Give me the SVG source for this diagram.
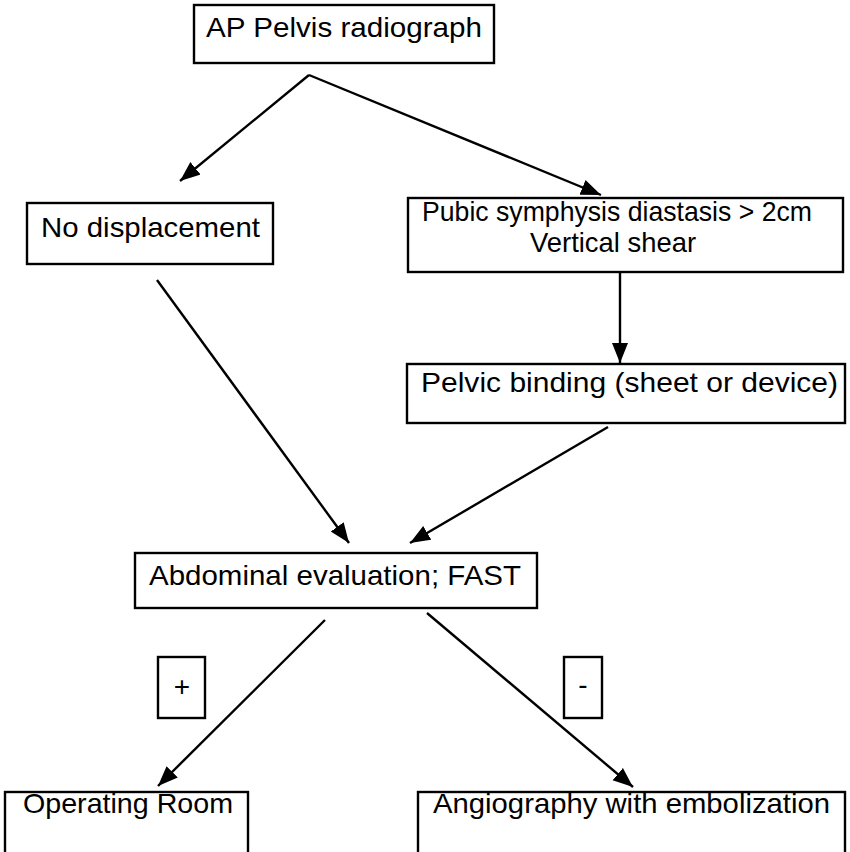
<svg xmlns="http://www.w3.org/2000/svg" width="850" height="852" viewBox="0 0 850 852">
<style>
.box{fill:#fff;stroke:#000;stroke-width:2.4}
.t{font-family:"Liberation Sans",Arial,sans-serif;font-size:28px;fill:#000}
.sm{font-family:"Liberation Sans",Arial,sans-serif;font-size:28px;fill:#000;text-anchor:middle}
.ln{stroke:#000;stroke-width:2.4;fill:none;marker-end:url(#ah)}
</style>
<defs>
<marker id="ah" markerUnits="userSpaceOnUse" markerWidth="22" markerHeight="18" refX="20" refY="8" orient="auto">
<path d="M0,0 L20,8 L0,16 Z" fill="#000"/>
</marker>
</defs>
<rect width="850" height="852" fill="#fff"/>
<g id="connectors">
<line class="ln" x1="309" y1="75" x2="180" y2="181"/>
<line class="ln" x1="309" y1="75" x2="601" y2="195"/>
<line class="ln" x1="620" y1="272" x2="620" y2="363"/>
<line class="ln" x1="157" y1="280" x2="349" y2="543"/>
<line class="ln" x1="608" y1="427" x2="410" y2="543"/>
<line class="ln" x1="325" y1="620" x2="158" y2="786"/>
<line class="ln" x1="427" y1="613" x2="633" y2="787"/>
</g>
<g id="ap-pelvis">
<rect class="box" x="194" y="5" width="300" height="58"/>
<text class="t" x="206" y="37" textLength="276" lengthAdjust="spacingAndGlyphs">AP Pelvis radiograph</text>
</g>
<g id="no-displacement">
<rect class="box" x="27" y="203" width="246" height="61"/>
<text class="t" x="41" y="237" textLength="219" lengthAdjust="spacingAndGlyphs">No displacement</text>
</g>
<g id="pubic">
<rect class="box" x="408" y="198" width="435" height="74"/>
<text class="t" x="422" y="221" textLength="390" lengthAdjust="spacingAndGlyphs">Pubic symphysis diastasis &gt; 2cm</text>
<text class="t" x="530" y="252" textLength="166" lengthAdjust="spacingAndGlyphs">Vertical shear</text>
</g>
<g id="pelvic-binding">
<rect class="box" x="407" y="364" width="438" height="59"/>
<text class="t" x="421" y="392" textLength="417" lengthAdjust="spacingAndGlyphs">Pelvic binding (sheet or device)</text>
</g>
<g id="abdominal">
<rect class="box" x="135" y="553" width="402" height="55"/>
<text class="t" x="149" y="585" textLength="372" lengthAdjust="spacingAndGlyphs">Abdominal evaluation; FAST</text>
</g>
<g id="plus">
<rect class="box" x="158" y="657" width="47" height="61"/>
<text class="sm" x="182" y="696">+</text>
</g>
<g id="minus">
<rect class="box" x="564" y="657" width="38" height="61"/>
<text class="sm" x="583" y="694">-</text>
</g>
<g id="operating-room">
<rect class="box" x="5" y="792" width="243" height="80"/>
<text class="t" x="23" y="813" textLength="210" lengthAdjust="spacingAndGlyphs">Operating Room</text>
</g>
<g id="angiography">
<rect class="box" x="418" y="792" width="427" height="80"/>
<text class="t" x="433" y="813" textLength="397" lengthAdjust="spacingAndGlyphs">Angiography with embolization</text>
</g>
</svg>
